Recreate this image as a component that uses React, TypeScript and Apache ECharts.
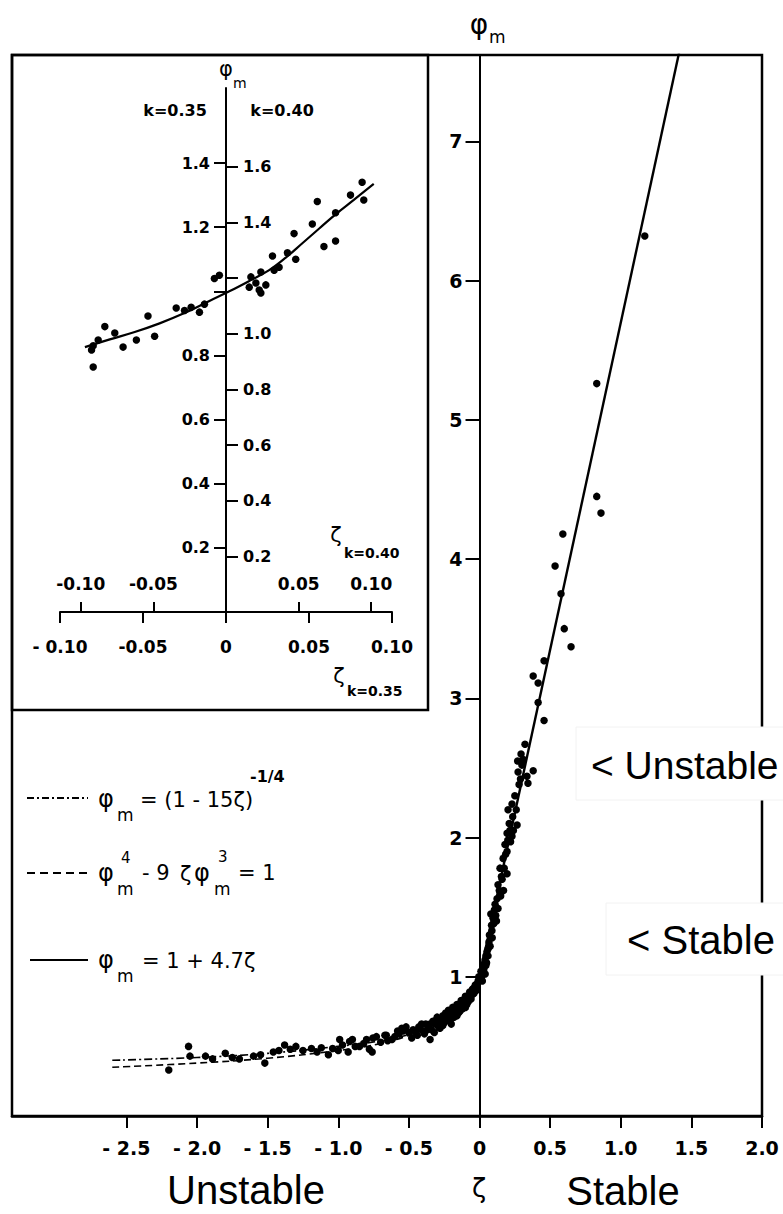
import React, { useEffect, useRef } from "react";
import * as echarts from "echarts";

// ---------------- Main chart data (zeta, phi_m) ----------------
const mainXMin = -3.31;
const mainXMax = 2.0;
const mainYMax = 7.62;
const mainXTickValues = [-2.5, -2, -1.5, -1, -0.5, 0, 0.5, 1, 1.5, 2];
const mainXTickLabels = ["- 2.5", "- 2.0", "- 1.5", "- 1.0", "- 0.5", "0", "0.5", "1.0", "1.5", "2.0"];
const mainYTickValues = [1, 2, 3, 4, 5, 6, 7];
const mainYTickLabels = ["1", "2", "3", "4", "5", "6", "7"];

const stablePoints: [number, number][] = [
  [1.17, 6.32], [0.83, 5.26], [0.83, 4.45], [0.86, 4.33], [0.59, 4.18], [0.535, 3.95],
  [0.577, 3.75], [0.6, 3.5], [0.648, 3.37], [0.457, 3.27], [0.38, 3.16], [0.415, 3.11],
  [0.415, 2.97], [0.457, 2.84], [0.322, 2.67], [0.294, 2.6], [0.273, 2.47], [0.38, 2.48],
  [0.343, 2.39], [0.336, 2.44], [0.3, 2.52], [0.202, 2.2], [0.23, 2.24], [0.266, 2.09],
  [0.195, 2.03], [0.23, 2.01], [0.195, 1.9], [0.167, 1.85], [0.145, 1.78], [0.195, 1.74],
  [0.131, 1.66], [0.124, 1.56], [0.131, 1.49], [0.096, 1.42], [0.088, 1.33], [0.067, 1.25],
  [0.053, 1.18], [0.039, 1.12], [0.025, 1.06], [0.018, 1.02], [0.21, 2.1], [0.18, 1.95],
  [0.16, 1.7], [0.11, 1.52], [0.1, 1.38], [0.08, 1.45], [0.07, 1.3], [0.06, 1.2],
  [0.045, 1.15], [0.03, 1.09], [0.01, 1.04], [0.005, 0.98], [0.02, 0.97], [0.04, 1.02],
  [0.25, 2.3], [0.28, 2.38], [0.27, 2.55], [0.24, 2.05], [0.22, 1.97], [0.17, 1.62],
  [0.15, 1.58], [0.12, 1.4], [0.09, 1.28], [0.05, 1.1],
  [0.015, 1.0], [0.03, 1.05], [0.045, 1.08], [0.06, 1.15], [0.075, 1.22], [0.085, 1.37],
  [0.105, 1.48], [0.115, 1.44], [0.14, 1.62], [0.155, 1.72], [0.175, 1.78], [0.185, 1.88],
  [0.2, 1.98], [0.215, 2.05], [0.235, 2.15], [0.26, 2.2], [0.29, 2.42], [0.31, 2.56],
];

const unstablePoints: [number, number][] = [
  [-0.018, 0.945], [-0.053, 0.87], [-0.088, 0.82], [-0.124, 0.77], [-0.159, 0.74],
  [-0.195, 0.73], [-0.23, 0.7], [-0.3, 0.7], [-0.35, 0.66], [-0.35, 0.55], [-0.28, 0.63],
  [-0.43, 0.64], [-0.47, 0.62], [-0.54, 0.61], [-0.55, 0.63], [-0.62, 0.55], [-0.67, 0.58],
  [-0.755, 0.56], [-0.76, 0.46], [-0.82, 0.52], [-0.92, 0.535], [-0.97, 0.51], [-1.04, 0.485],
  [-2.06, 0.5], [-2.2, 0.33], [-1.94, 0.43], [-1.89, 0.41], [-1.7, 0.41], [-1.6, 0.43],
  [-1.52, 0.38], [-1.46, 0.46], [-1.38, 0.51], [-1.34, 0.48], [-1.19, 0.485], [-1.07, 0.44],
  [-0.99, 0.55], [-0.93, 0.46], [-0.9, 0.55], [-0.78, 0.48], [-0.73, 0.57], [-0.66, 0.58],
  [-0.58, 0.61], [-1.25, 0.47], [-1.12, 0.49], [-1.0, 0.47], [-0.85, 0.5], [-0.7, 0.53],
  [-0.6, 0.57], [-0.5, 0.6], [-0.48, 0.56],
  [-0.45, 0.6], [-0.42, 0.63], [-0.4, 0.61], [-0.38, 0.66], [-0.36, 0.64], [-0.34, 0.62],
  [-0.33, 0.68], [-0.31, 0.66], [-0.3, 0.71], [-0.29, 0.64], [-0.27, 0.69], [-0.26, 0.72],
  [-0.25, 0.67], [-0.24, 0.74], [-0.23, 0.7], [-0.22, 0.76], [-0.21, 0.68], [-0.2, 0.73],
  [-0.19, 0.78], [-0.18, 0.71], [-0.17, 0.76], [-0.16, 0.8], [-0.15, 0.74], [-0.14, 0.79],
  [-0.13, 0.83], [-0.12, 0.77], [-0.11, 0.82], [-0.1, 0.86], [-0.09, 0.8], [-0.08, 0.85],
  [-0.07, 0.89], [-0.06, 0.84], [-0.05, 0.91], [-0.04, 0.88], [-0.03, 0.94], [-0.02, 0.92],
  [-0.01, 0.97], [0.0, 0.99],
  [-0.44, 0.58], [-0.41, 0.66], [-0.39, 0.59], [-0.37, 0.62], [-0.32, 0.6], [-0.28, 0.67],
  [-0.26, 0.65], [-0.22, 0.69], [-0.2, 0.66], [-0.18, 0.75], [-0.16, 0.72], [-0.14, 0.75],
  [-0.12, 0.8], [-0.1, 0.78], [-0.08, 0.82], [-0.06, 0.87], [-0.04, 0.92], [-0.025, 0.9],
  [-0.015, 0.95], [-0.005, 1.0], [-0.65, 0.54], [-0.57, 0.59], [-0.52, 0.64], [-0.8, 0.55],
  [-0.88, 0.5], [-1.15, 0.46], [-1.3, 0.5], [-1.42, 0.47], [-1.55, 0.44], [-1.75, 0.42],
  [-1.8, 0.45], [-2.05, 0.43],
];

// curves
const dashDotCurve: [number, number][] = [
  [-2.6, 0.4], [-2.0, 0.42], [-1.5, 0.45], [-1.0, 0.5], [-0.7, 0.54], [-0.5, 0.585],
  [-0.3, 0.65], [-0.2, 0.7], [-0.1, 0.8], [-0.05, 0.87], [-0.02, 0.94], [0, 1.0],
];
const dashedCurve: [number, number][] = [
  [-2.6, 0.35], [-2.0, 0.38], [-1.5, 0.415], [-1.0, 0.47], [-0.7, 0.52], [-0.5, 0.58],
  [-0.3, 0.67], [-0.2, 0.72], [-0.1, 0.83], [-0.05, 0.9], [0, 1.0],
];
const solidLine: [number, number][] = [[0, 1.0], [1.42, 7.67]];

// ---------------- Inset data (k = 0.35 scales) ----------------
const insetXMin = -0.1;
const insetXMax = 0.1;
const insetTopRatio = 0.4 / 0.35;
const insetYMaxLeft = 1.634;
const insetYMaxRight = 1.884;
const insetBottomTickValues = [-0.1, -0.05, 0, 0.05, 0.1];
const insetBottomTickLabels = ["- 0.10", "-0.05", "0", "0.05", "0.10"];
const insetTopTickValues = [-0.1, -0.05, 0.05, 0.1];
const insetTopTickLabels = ["-0.10", "-0.05", "0.05", "0.10"];
const insetLeftTickValues = [0.2, 0.4, 0.6, 0.8, 1.0, 1.2, 1.4];
const insetLeftLabelValues = [0.2, 0.4, 0.6, 0.8, 1.2, 1.4];
const insetRightTickValues = [0.2, 0.4, 0.6, 0.8, 1.0, 1.2, 1.4, 1.6];
const insetRightLabelValues = [0.2, 0.4, 0.6, 0.8, 1.0, 1.4, 1.6];

const insetPoints: [number, number][] = [
  [0.082, 1.34], [0.075, 1.3], [0.083, 1.285], [0.055, 1.28], [0.052, 1.21], [0.066, 1.245],
  [0.041, 1.18], [0.059, 1.14], [0.066, 1.157], [0.042, 1.1], [0.037, 1.12], [0.028, 1.11],
  [0.032, 1.075], [0.029, 1.066], [0.021, 1.06], [0.015, 1.045], [0.018, 1.026], [0.024, 1.02],
  [0.02, 1.004], [0.021, 0.995], [0.014, 1.013], [-0.007, 1.04], [-0.004, 1.05], [-0.013, 0.96],
  [-0.021, 0.95], [-0.03, 0.948], [-0.016, 0.935], [-0.025, 0.94], [-0.047, 0.923], [-0.043, 0.86],
  [-0.054, 0.848], [-0.062, 0.826], [-0.067, 0.87], [-0.073, 0.89], [-0.077, 0.848], [-0.081, 0.817],
  [-0.08, 0.764], [-0.08, 0.83],
];
const insetCurve: [number, number][] = [
  [-0.085, 0.826], [-0.07, 0.85], [-0.055, 0.873], [-0.04, 0.9], [-0.025, 0.932], [-0.01, 0.97],
  [0.002, 1.0], [0.015, 1.035], [0.026, 1.066], [0.036, 1.105], [0.046, 1.15], [0.056, 1.195],
  [0.066, 1.24], [0.077, 1.285], [0.089, 1.335],
];

const near = (a: number, b: number) => Math.abs(a - b) < 1e-6;
const labelFrom = (values: number[], labels: string[]) => (v: number) => {
  const i = values.findIndex((x) => near(x, v));
  return i >= 0 ? labels[i] : "";
};
const fixed1 = (values: number[]) => (v: number) =>
  values.some((x) => near(x, v)) ? v.toFixed(1) : "";

const SANS = "'DejaVu Sans', sans-serif";
const ARIAL = "'Liberation Sans', Arial, sans-serif";

function txt(x: number, y: number, text: string, size: number, opt: any = {}) {
  const align = opt.align || "left";
  return {
    type: "text",
    x,
    y,
    z: 120,
    style: {
      text,
      fontSize: size,
      fontFamily: opt.family || SANS,
      fontWeight: opt.weight || "normal",
      fill: "#000",
      align,
      textAlign: align,
      verticalAlign: "middle",
      textVerticalAlign: "middle",
    },
  };
}

export default function App() {
  const ref = useRef<HTMLDivElement>(null);
  useEffect(() => {
    if (!ref.current) return;
    const chart = echarts.init(ref.current, undefined, { renderer: "svg" });

    const mainGrid = { left: 12, top: 55, width: 750, height: 1061 };
    const insetGrid = { left: 60, top: 88, width: 332, height: 524 };
    // move the y axes onto zeta = 0 (labels travel with them)
    const mainYOffset = -((0 - mainXMin) / (mainXMax - mainXMin)) * mainGrid.width;
    const insetYOffsetLeft = -((0 - insetXMin) / (insetXMax - insetXMin)) * insetGrid.width;
    const insetYOffsetRight = -((insetXMax - 0) / (insetXMax - insetXMin)) * insetGrid.width;

    const axisLineStyle = { color: "#000", width: 2 };
    const mainLabel = { color: "#000", fontFamily: SANS, fontWeight: "bold" as const, fontSize: 19 };
    const insetLabel = { color: "#000", fontFamily: SANS, fontWeight: "bold" as const, fontSize: 16 };

    const option: any = {
      animation: false,
      backgroundColor: "#fff",
      textStyle: { fontFamily: SANS },
      grid: [
        { ...mainGrid, show: true, borderColor: "#000", borderWidth: 2.5, backgroundColor: "transparent" },
        { ...insetGrid, show: false },
      ],
      xAxis: [
        {
          type: "value", gridIndex: 0, min: mainXMin, max: mainXMax, position: "bottom",
          axisLine: { onZero: false, lineStyle: { color: "#000", width: 2.5 } },
          axisTick: { show: true, length: 12, lineStyle: { color: "#000", width: 2 }, customValues: mainXTickValues },
          axisLabel: { ...mainLabel, margin: 22, customValues: mainXTickValues, formatter: labelFrom(mainXTickValues, mainXTickLabels) },
          splitLine: { show: false },
        },
        {
          type: "value", gridIndex: 1, min: insetXMin, max: insetXMax, position: "bottom",
          axisLine: { onZero: false, lineStyle: axisLineStyle },
          axisTick: { show: true, length: 11, lineStyle: { color: "#000", width: 2 }, customValues: insetBottomTickValues },
          axisLabel: { ...insetLabel, fontSize: 17, margin: 26, customValues: insetBottomTickValues, formatter: labelFrom(insetBottomTickValues, insetBottomTickLabels) },
          splitLine: { show: false },
        },
        {
          type: "value", gridIndex: 1, min: insetXMin * insetTopRatio, max: insetXMax * insetTopRatio, position: "bottom",
          axisLine: { show: false, onZero: false },
          axisTick: { show: true, inside: true, length: 10, lineStyle: { color: "#000", width: 2 }, customValues: insetTopTickValues },
          axisLabel: { ...insetLabel, fontSize: 17, inside: true, margin: 20, customValues: insetTopTickValues, formatter: labelFrom(insetTopTickValues, insetTopTickLabels) },
          splitLine: { show: false },
        },
      ],
      yAxis: [
        {
          type: "value", gridIndex: 0, min: 0, max: mainYMax, position: "left", offset: mainYOffset,
          axisLine: { onZero: false, lineStyle: axisLineStyle },
          axisTick: { show: true, length: 14, lineStyle: { color: "#000", width: 2 }, customValues: mainYTickValues },
          axisLabel: { ...mainLabel, margin: 17, customValues: mainYTickValues, formatter: labelFrom(mainYTickValues, mainYTickLabels) },
          splitLine: { show: false },
        },
        {
          type: "value", gridIndex: 1, min: 0, max: insetYMaxLeft, position: "left", offset: insetYOffsetLeft,
          axisLine: { onZero: false, lineStyle: axisLineStyle },
          axisTick: { show: true, length: 12, lineStyle: { color: "#000", width: 2 }, customValues: insetLeftTickValues },
          axisLabel: { ...insetLabel, margin: 16, customValues: insetLeftLabelValues, formatter: fixed1(insetLeftLabelValues) },
          splitLine: { show: false },
        },
        {
          type: "value", gridIndex: 1, min: 0, max: insetYMaxRight, position: "right", offset: insetYOffsetRight,
          axisLine: { show: false, onZero: false },
          axisTick: { show: true, length: 12, lineStyle: { color: "#000", width: 2 }, customValues: insetRightTickValues },
          axisLabel: { ...insetLabel, margin: 17, customValues: insetRightLabelValues, formatter: fixed1(insetRightLabelValues) },
          splitLine: { show: false },
        },
      ],
      series: [
        {
          type: "scatter", xAxisIndex: 0, yAxisIndex: 0, symbol: "circle", symbolSize: 7.5,
          itemStyle: { color: "#000", opacity: 1 }, data: [...unstablePoints, ...stablePoints], z: 5,
        },
        {
          type: "line", xAxisIndex: 0, yAxisIndex: 0, data: dashDotCurve, smooth: 0.4, showSymbol: false,
          lineStyle: { color: "#000", width: 1.6, type: [8, 3, 2, 3] }, z: 4,
        },
        {
          type: "line", xAxisIndex: 0, yAxisIndex: 0, data: dashedCurve, smooth: 0.4, showSymbol: false,
          lineStyle: { color: "#000", width: 1.6, type: [7, 4] }, z: 4,
        },
        {
          type: "line", xAxisIndex: 0, yAxisIndex: 0, data: solidLine, showSymbol: false, clip: true,
          lineStyle: { color: "#000", width: 2.4 }, z: 4,
        },
        {
          type: "scatter", xAxisIndex: 1, yAxisIndex: 1, symbol: "circle", symbolSize: 7.5,
          itemStyle: { color: "#000", opacity: 1 }, data: insetPoints, z: 5,
        },
        {
          type: "line", xAxisIndex: 1, yAxisIndex: 1, data: insetCurve, smooth: 0.4, showSymbol: false,
          lineStyle: { color: "#000", width: 2.2 }, z: 4,
        },
      ],
      graphic: [
        // inset frame
        { type: "rect", z: 110, shape: { x: 12, y: 55, width: 416, height: 655 }, style: { fill: "none", stroke: "#000", lineWidth: 2.5 } },
        // white boxes behind annotations
        { type: "rect", z: 115, shape: { x: 576, y: 727, width: 210, height: 73 }, style: { fill: "#fff", stroke: "#f2f2f2", lineWidth: 1 } },
        { type: "rect", z: 115, shape: { x: 606, y: 903, width: 180, height: 72 }, style: { fill: "#fff", stroke: "#f2f2f2", lineWidth: 1 } },
        txt(591, 765, "< Unstable", 39, { family: ARIAL }),
        txt(627, 940, "< Stable", 40, { family: ARIAL }),
        // axis titles
        txt(479, 24, "φ", 28, { align: "center" }),
        txt(489, 37, "m", 17),
        txt(479, 1188, "ζ", 26, { align: "center" }),
        txt(246, 1190, "Unstable", 40, { family: ARIAL, align: "center" }),
        txt(623, 1191, "Stable", 40, { family: ARIAL, align: "center" }),
        // inset labels
        txt(226, 69, "φ", 21, { align: "center" }),
        txt(233, 83, "m", 14),
        txt(175, 110, "k=0.35", 16, { weight: "bold", align: "center" }),
        txt(282, 110, "k=0.40", 16, { weight: "bold", align: "center" }),
        txt(336, 535, "ζ", 21, { align: "center" }),
        txt(344, 553, "k=0.40", 14, { weight: "bold" }),
        txt(339, 676, "ζ", 21, { align: "center" }),
        txt(347, 691, "k=0.35", 14, { weight: "bold" }),
        // legend
        { type: "line", z: 120, shape: { x1: 27, y1: 798, x2: 88, y2: 798 }, style: { stroke: "#000", lineWidth: 2, lineDash: [7, 3, 2, 3] } },
        txt(98, 799, "φ", 24),
        txt(117, 815, "m", 17),
        txt(140, 800, "= (1 - 15ζ)", 21),
        txt(250, 776, "-1/4", 16, { weight: "bold" }),
        { type: "line", z: 120, shape: { x1: 27, y1: 873, x2: 88, y2: 873 }, style: { stroke: "#000", lineWidth: 2, lineDash: [8, 5] } },
        txt(98, 873, "φ", 24),
        txt(121, 858, "4", 15),
        txt(117, 889, "m", 17),
        txt(142, 873, "- 9", 21),
        txt(180, 874, "ζ", 21),
        txt(194, 873, "φ", 24),
        txt(218, 857, "3", 15),
        txt(214, 889, "m", 17),
        txt(238, 873, "= 1", 21),
        { type: "line", z: 120, shape: { x1: 30, y1: 960, x2: 88, y2: 960 }, style: { stroke: "#000", lineWidth: 2 } },
        txt(98, 960, "φ", 24),
        txt(117, 976, "m", 17),
        txt(142, 961, "= 1 + 4.7ζ", 21),
      ],
    };

    chart.setOption(option);
    return () => chart.dispose();
  }, []);

  return (
    <div
      ref={ref}
      style={{ position: "fixed", left: 0, top: 0, width: 783, height: 1214, background: "#fff" }}
    />
  );
}
